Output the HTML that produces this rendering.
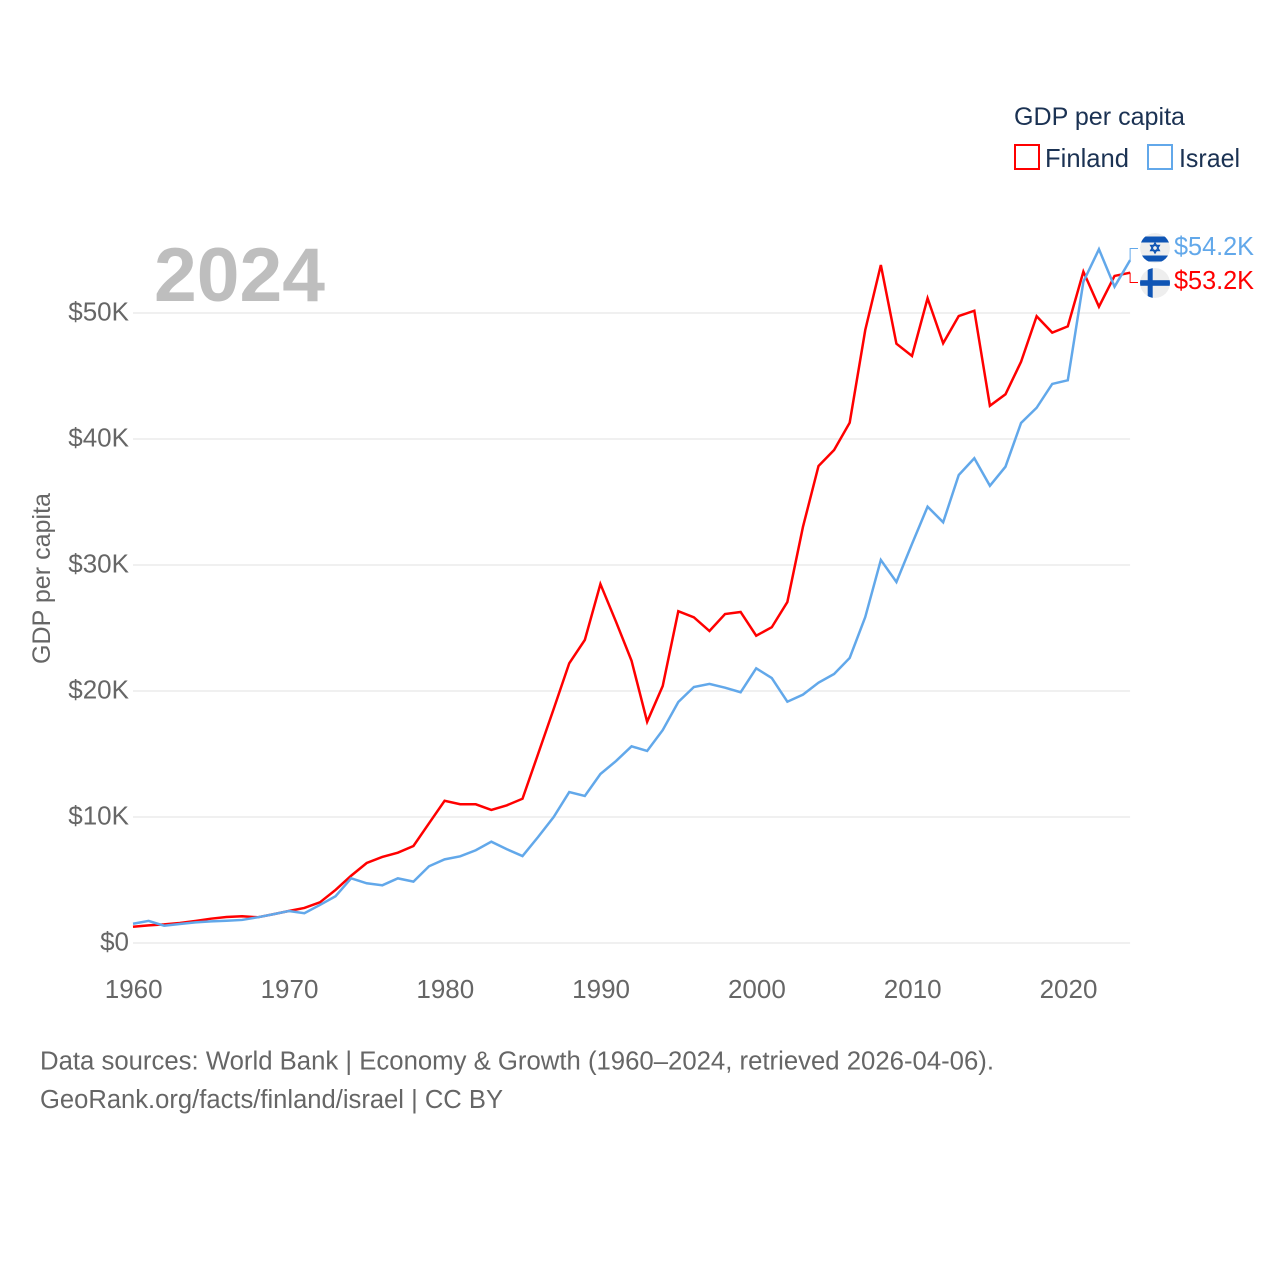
<!DOCTYPE html>
<html lang="en">
<head>
<meta charset="utf-8">
<title>GDP per capita: Finland and Israel</title>
<style>
  html, body { margin: 0; padding: 0; background: #fff; }
  svg { display: block; font-family: "Liberation Sans", sans-serif; }
</style>
</head>
<body>
<svg id="chart" xmlns="http://www.w3.org/2000/svg" width="1280" height="1280" viewBox="0 0 1280 1280">
  <defs>
    <clipPath id="clip-il"><circle cx="1155" cy="248" r="15"/></clipPath>
    <clipPath id="clip-fi"><circle cx="1155" cy="283" r="15"/></clipPath>
  </defs>
  <rect x="0" y="0" width="1280" height="1280" fill="#ffffff"/>
  <g id="grid"></g>
  <g id="yticks"></g>
  <g id="xticks"></g>
  <text transform="translate(50,664) rotate(-90)" font-size="25" fill="#666666" textLength="171" lengthAdjust="spacingAndGlyphs">GDP per capita</text>
  <text x="154" y="301" font-size="76" font-weight="700" fill="#bebebe" textLength="171" lengthAdjust="spacingAndGlyphs">2024</text>
  <g id="series"></g>

  <g>
    <text x="1014" y="125" font-size="25" fill="#1b3253" textLength="171" lengthAdjust="spacingAndGlyphs">GDP per capita</text>
    <g>
      <rect x="1015" y="145" width="24" height="24" fill="none" stroke="#ff0000" stroke-width="2"/>
      <text x="1045" y="167" font-size="26" fill="#1b3253" textLength="84" lengthAdjust="spacingAndGlyphs">Finland</text>
    </g>
    <g>
      <rect x="1148" y="145" width="24" height="24" fill="none" stroke="#62a8ea" stroke-width="2"/>
      <text x="1179" y="167" font-size="26" fill="#1b3253" textLength="61" lengthAdjust="spacingAndGlyphs">Israel</text>
    </g>
  </g>

  <g clip-path="url(#clip-il)">
    <circle cx="1155" cy="248" r="15" fill="#eeeeee"/>
    <rect x="1140" y="236.5" width="30" height="6" fill="#0f55b5"/>
    <rect x="1140" y="255.5" width="30" height="6" fill="#0f55b5"/>
    <polygon points="1155,243 1159.3,250.5 1150.7,250.5" fill="none" stroke="#0f55b5" stroke-width="1.4"/>
    <polygon points="1155,253 1159.3,245.5 1150.7,245.5" fill="none" stroke="#0f55b5" stroke-width="1.4"/>
  </g>
  <g clip-path="url(#clip-fi)">
    <circle cx="1155" cy="283" r="15" fill="#eeeeee"/>
    <rect x="1147.7" y="268" width="5" height="30" fill="#0f55b5"/>
    <rect x="1140" y="280.2" width="30" height="5.6" fill="#0f55b5"/>
  </g>
  <g id="endlabels"></g>

  <text x="40" y="1069.5" font-size="25.5" fill="#666666" textLength="954" lengthAdjust="spacingAndGlyphs">Data sources: World Bank | Economy &amp; Growth (1960–2024, retrieved 2026-04-06).</text>
  <text x="40" y="1108" font-size="25.5" fill="#666666" textLength="463" lengthAdjust="spacingAndGlyphs">GeoRank.org/facts/finland/israel | CC BY</text>
</svg>
<script>
var startYear = 1960;
var xTickLabels = [1960, 1970, 1980, 1990, 2000, 2010, 2020];
var yTickValues = [0, 10, 20, 30, 40, 50];
var yTickLabels = ["$0", "$10K", "$20K", "$30K", "$40K", "$50K"];
var finlandValues = [1.29, 1.40, 1.48, 1.59, 1.75, 1.93, 2.06, 2.12, 2.04, 2.28,
  2.54, 2.78, 3.23, 4.21, 5.34, 6.35, 6.83, 7.17, 7.70, 9.50,
  11.29, 11.01, 11.01, 10.56, 10.93, 11.45, 15.00, 18.57, 22.20, 24.05,
  28.49, 25.50, 22.40, 17.56, 20.40, 26.33, 25.85, 24.76, 26.11, 26.27,
  24.39, 25.06, 27.06, 33.02, 37.86, 39.13, 41.29, 48.65, 53.81, 47.56,
  46.59, 51.17, 47.60, 49.76, 50.18, 42.64, 43.55, 46.13, 49.74, 48.44,
  48.94, 53.28, 50.50, 52.94, 53.20];
var israelValues = [1.53, 1.75, 1.37, 1.51, 1.64, 1.72, 1.77, 1.83, 2.04, 2.28,
  2.54, 2.36, 3.02, 3.71, 5.13, 4.74, 4.58, 5.13, 4.87, 6.09,
  6.64, 6.88, 7.36, 8.04, 7.44, 6.90, 8.41, 10.00, 11.98, 11.67,
  13.41, 14.44, 15.61, 15.24, 16.90, 19.13, 20.32, 20.56, 20.26, 19.90,
  21.80, 21.03, 19.15, 19.71, 20.66, 21.35, 22.62, 25.87, 30.40, 28.65,
  31.67, 34.63, 33.39, 37.14, 38.47, 36.29, 37.80, 41.27, 42.48, 44.37,
  44.66, 52.48, 55.06, 52.09, 54.20];

var SVG_NS = "http://www.w3.org/2000/svg";
function xScale(year) { return 133 + (year - startYear) * 15.58; }
function yScale(value) { return 943 - value * 12.6; }
function make(tag, parent) {
  var el = document.createElementNS(SVG_NS, tag);
  parent.appendChild(el);
  return el;
}
function linePath(values) {
  return values.map(function (v, i) {
    return (i ? "L" : "M") + xScale(startYear + i).toFixed(2) + " " + yScale(v).toFixed(2);
  }).join(" ");
}

var gridGroup = document.getElementById("grid");
var yGroup = document.getElementById("yticks");
var xGroup = document.getElementById("xticks");
var seriesGroup = document.getElementById("series");
var endGroup = document.getElementById("endlabels");
var lastYear = startYear + finlandValues.length - 1;

yTickValues.forEach(function (v, i) {
  var g = make("line", gridGroup);
  
  
  g.setAttribute("x1", xScale(startYear));
  g.setAttribute("x2", xScale(lastYear));
  g.setAttribute("y1", yScale(v));
  g.setAttribute("y2", yScale(v));
  g.setAttribute("stroke", "#e8e8e8");
  g.setAttribute("stroke-width", "1.2");

  var t = make("text", yGroup);
  
  
  t.setAttribute("x", 129);
  t.setAttribute("y", yScale(v) + 7.5);
  t.setAttribute("text-anchor", "end");
  t.setAttribute("font-size", "26");
  t.setAttribute("fill", "#666666");
  t.textContent = yTickLabels[i];
});

xTickLabels.forEach(function (year) {
  var t = make("text", xGroup);
  
  
  t.setAttribute("x", xScale(year) + 0.7);
  t.setAttribute("y", 998);
  t.setAttribute("text-anchor", "middle");
  t.setAttribute("font-size", "26");
  t.setAttribute("fill", "#666666");
  t.textContent = String(year);
});

var fiLine = make("path", seriesGroup);


fiLine.setAttribute("d", linePath(finlandValues));
fiLine.setAttribute("fill", "none");
fiLine.setAttribute("stroke", "#ff0000");
fiLine.setAttribute("stroke-width", "2.5");
fiLine.setAttribute("stroke-linejoin", "miter");

var ilLine = make("path", seriesGroup);


ilLine.setAttribute("d", linePath(israelValues));
ilLine.setAttribute("fill", "none");
ilLine.setAttribute("stroke", "#62a8ea");
ilLine.setAttribute("stroke-width", "2.5");
ilLine.setAttribute("stroke-linejoin", "miter");

var endX = xScale(lastYear);
var fiLast = finlandValues[finlandValues.length - 1];
var ilLast = israelValues[israelValues.length - 1];

var fiConn = make("path", endGroup);


fiConn.setAttribute("d", "M" + endX + " " + yScale(fiLast) + " V282.5 H1138");
fiConn.setAttribute("fill", "none");
fiConn.setAttribute("stroke", "#ff0000");
fiConn.setAttribute("stroke-width", "1");

var ilConn = make("path", endGroup);


ilConn.setAttribute("d", "M" + endX + " " + yScale(ilLast) + " V248.5 H1138");
ilConn.setAttribute("fill", "none");
ilConn.setAttribute("stroke", "#62a8ea");
ilConn.setAttribute("stroke-width", "1");

var ilLabel = make("text", endGroup);


ilLabel.setAttribute("x", 1174);
ilLabel.setAttribute("y", 255);
ilLabel.setAttribute("font-size", "26");
ilLabel.setAttribute("fill", "#62a8ea");
ilLabel.setAttribute("textLength", "80");
ilLabel.setAttribute("lengthAdjust", "spacingAndGlyphs");
ilLabel.textContent = "$" + ilLast.toFixed(1) + "K";

var fiLabel = make("text", endGroup);


fiLabel.setAttribute("x", 1174);
fiLabel.setAttribute("y", 289);
fiLabel.setAttribute("font-size", "26");
fiLabel.setAttribute("fill", "#ff0000");
fiLabel.setAttribute("textLength", "80");
fiLabel.setAttribute("lengthAdjust", "spacingAndGlyphs");
fiLabel.textContent = "$" + fiLast.toFixed(1) + "K";
</script>
</body>
</html>
